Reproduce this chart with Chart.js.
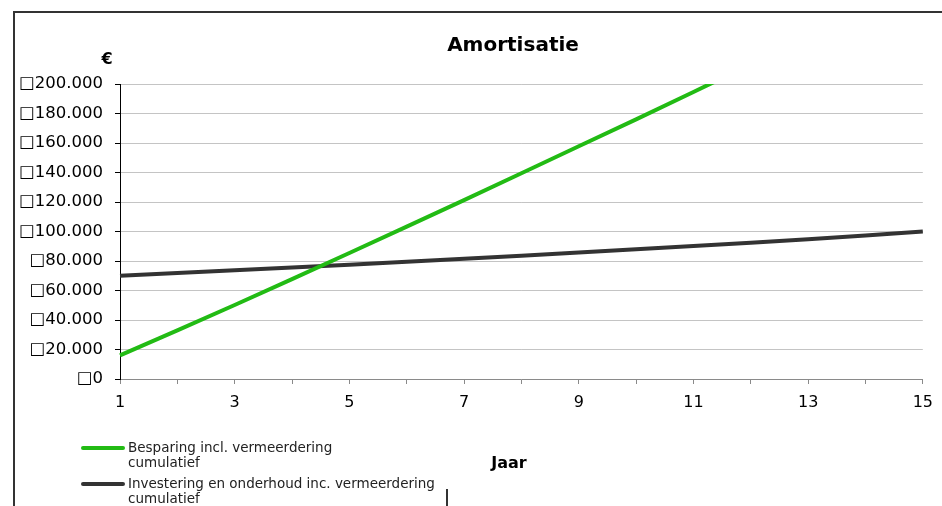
<!DOCTYPE html>
<html>
<head>
<meta charset="utf-8">
<script src="https://cdn.jsdelivr.net/npm/chart.js@4/dist/chart.umd.min.js"></script>
<style>
  html, body { margin: 0; padding: 0; background: #fff; }
  #wrap { width: 942px; height: 506px; }
</style>
</head>
<body>
<div id="wrap"><canvas id="c" width="942" height="506"></canvas></div>
<script>
// Years on the horizontal axis
const years = [1, 2, 3, 4, 5, 6, 7, 8, 9, 10, 11, 12, 13, 14, 15];

// Cumulative savings including yearly increase (€)
const besparing = [16000, 33000, 50200, 67700, 85400, 103300, 121300, 139500, 157800, 176000, 194600, 213300, 232200, 251300, 270600];

// Cumulative investment and maintenance including yearly increase (€)
const investering = [70000, 71800, 73650, 75540, 77480, 79470, 81500, 83590, 85720, 87910, 90150, 92450, 94800, 97300, 100000];

// Vertical axis tick values (€)
const yTickValues = [0, 20000, 40000, 60000, 80000, 100000, 120000, 140000, 160000, 180000, 200000];

// Texts
const chartTitle = 'Amortisatie';
const yAxisTitle = '€';
const xAxisTitle = 'Jaar';
const seriesNames = [
  ['Besparing incl. vermeerdering', 'cumulatief'],
  ['Investering en onderhoud inc. vermeerdering', 'cumulatief']
];
const seriesColors = ['#22bb14', '#333333'];

const FONT = '"DejaVu Sans", Verdana, sans-serif';

function formatEuro(v) {
  return '\u25A1' + String(v).replace(/\B(?=(\d{3})+(?!\d))/g, '.');
}

// Frame, titles and the legend block drawn on top of the chart
const decorations = {
  id: 'decorations',
  afterDraw(chart) {
    const ctx = chart.ctx;
    ctx.save();

    // outer frame (left and top edges)
    ctx.strokeStyle = '#333333';
    ctx.lineWidth = 2;
    ctx.beginPath();
    ctx.moveTo(14, 506);
    ctx.lineTo(14, 12);
    ctx.lineTo(942, 12);
    ctx.stroke();

    // right edge of the legend box
    ctx.beginPath();
    ctx.moveTo(447, 489);
    ctx.lineTo(447, 506);
    ctx.stroke();

    ctx.fillStyle = '#000';
    ctx.textAlign = 'center';
    ctx.textBaseline = 'middle';

    ctx.font = 'bold 20px ' + FONT;
    ctx.fillText(chartTitle, 513, 46);

    ctx.font = 'bold 16px ' + FONT;
    ctx.fillText(yAxisTitle, 107, 60);
    ctx.fillText(xAxisTitle, 509, 464);

    // legend
    const rows = [448, 484];
    ctx.textAlign = 'left';
    ctx.font = '13.5px ' + FONT;
    chart.data.datasets.forEach((ds, i) => {
      const y = rows[i];
      ctx.strokeStyle = ds.borderColor;
      ctx.lineWidth = 4;
      ctx.lineCap = 'round';
      ctx.beginPath();
      ctx.moveTo(83, y);
      ctx.lineTo(123, y);
      ctx.stroke();
      ctx.fillStyle = '#222';
      seriesNames[i].forEach((t, k) => ctx.fillText(t, 128, y + k * 15.5));
    });

    ctx.restore();
  }
};

new Chart(document.getElementById('c'), {
  type: 'line',
  data: {
    labels: years,
    datasets: [
      {
        label: seriesNames[0].join(' '),
        data: besparing,
        borderColor: seriesColors[0],
        backgroundColor: seriesColors[0],
        borderWidth: 4,
        pointRadius: 0,
        tension: 0,
        fill: false
      },
      {
        label: seriesNames[1].join(' '),
        data: investering,
        borderColor: seriesColors[1],
        backgroundColor: seriesColors[1],
        borderWidth: 4,
        pointRadius: 0,
        tension: 0,
        fill: false
      }
    ]
  },
  options: {
    responsive: false,
    animation: false,
    devicePixelRatio: 1,
    layout: { padding: { left: 0, right: 18, top: 84, bottom: 0 } },
    plugins: {
      legend: { display: false },
      title: { display: false },
      tooltip: { enabled: false }
    },
    scales: {
      x: {
        type: 'category',
        offset: false,
        afterFit(scale) { scale.height = 127; },
        grid: {
          drawOnChartArea: false,
          tickLength: 5,
          tickColor: '#8a8a8a'
        },
        border: { color: '#8a8a8a', width: 1 },
        ticks: {
          autoSkip: false,
          maxRotation: 0,
          padding: 9,
          color: '#000',
          font: { family: FONT, size: 16 },
          callback(val, idx) { return years[idx] % 2 === 1 ? String(years[idx]) : ''; }
        }
      },
      y: {
        min: 0,
        max: 200000,
        afterFit(scale) { scale.width = 120; },
        afterBuildTicks(scale) { scale.ticks = yTickValues.map(v => ({ value: v })); },
        grid: {
          color: '#c4c4c4',
          lineWidth: 1,
          tickLength: 5,
          tickColor: '#000'
        },
        border: { color: '#000', width: 1 },
        ticks: {
          padding: 12,
          color: '#000',
          font: { family: FONT, size: 16.5 },
          callback(v) { return formatEuro(v); }
        }
      }
    }
  },
  plugins: [decorations]
});
</script>
</body>
</html>
